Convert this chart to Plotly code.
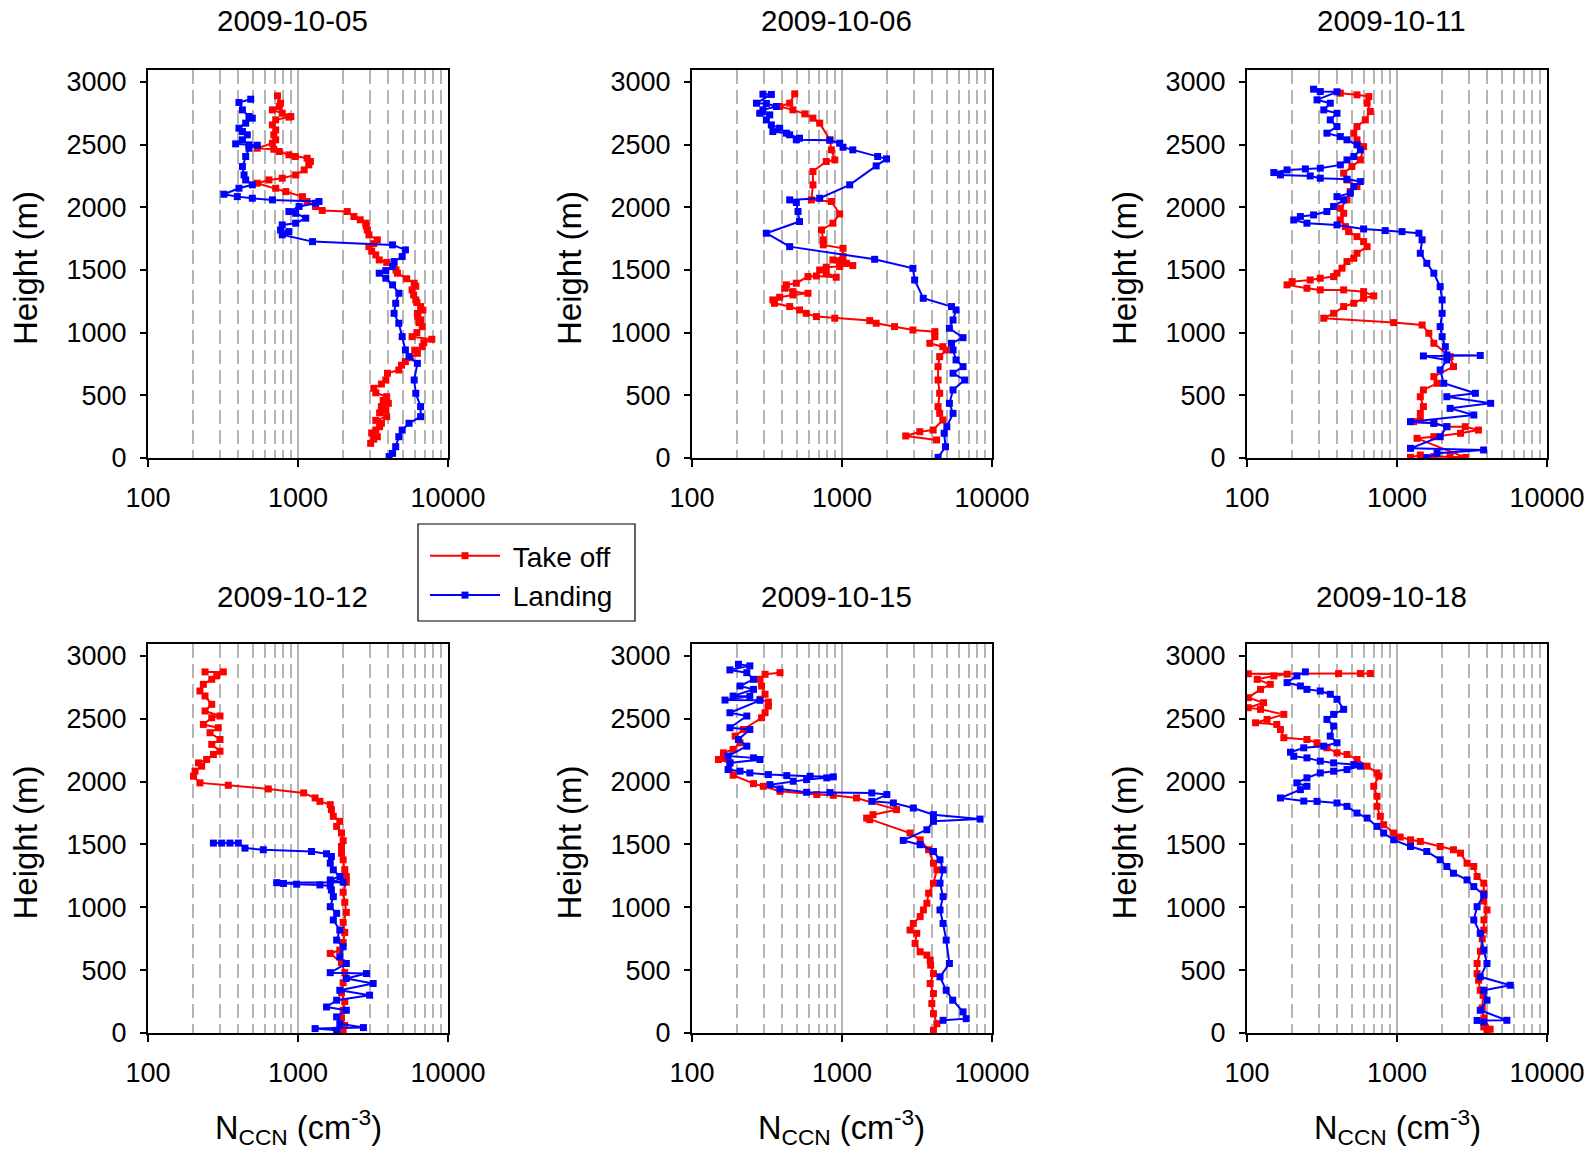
import sys
import plotly.graph_objects as go

# ---------------- data (height in m, N_CCN in cm^-3) ----------------
dates = ["2009-10-05", "2009-10-06", "2009-10-11", "2009-10-12", "2009-10-15", "2009-10-18"]
series_names = ["Take off", "Landing"]

# 2009-10-05
to_1005_h = [117,150,170,200,223,250,277,300,330,360,383,410,436,460,489,520,556,590,622,676,702,740,769,800,835,860,888,920,947,968,1000,1048,1080,1101,1130,1154,1180,1208,1240,1261,1300,1341,1370,1394,1430,1474,1500,1527,1560,1580,1620,1650,1686,1710,1740,1780,1819,1850,1873,1900,1926,1966,1974,2006,2046,2085,2125,2152,2192,2218,2232,2258,2298,2338,2365,2391,2405,2418,2445,2463,2471,2511,2538,2578,2617,2657,2697,2719,2724,2750,2777,2804,2830,2889]
to_1005_n = [3050,3200,3380,3100,3300,3500,3600,3300,3900,3500,3850,3600,4000,3700,3900,3300,3200,3600,3850,3950,4700,4900,5200,5600,6250,6000,6740,6900,7800,5760,6200,6740,6400,6570,6300,6250,6800,6570,6200,6100,5900,5760,6100,5950,5300,4600,4500,4370,3900,3480,3300,3100,2970,3200,3380,2970,2900,2850,2830,2600,2360,2130,1450,1310,1150,1070,830,710,535,640,785,965,1100,1180,1210,1150,960,870,750,690,535,675,710,690,710,675,710,870,895,785,675,750,765,730]
la_1005_h = [2862,2836,2777,2724,2711,2671,2631,2604,2578,2538,2506,2498,2495,2471,2405,2325,2258,2218,2179,2152,2104,2085,2072,2059,2046,2032,2006,1966,1952,1913,1873,1859,1819,1806,1780,1726,1700,1660,1607,1567,1527,1495,1474,1434,1381,1314,1234,1154,1075,968,862,809,755,622,516,410,330,277,223,170,90,37,11]
la_1005_n = [484,404,426,471,496,448,404,426,459,426,384,471,535,471,448,426,437,448,496,404,321,394,496,675,1380,1310,1016,870,965,1126,965,785,765,870,785,1250,4270,5200,4950,4370,4270,3850,3480,3850,4270,4700,4480,4370,4700,4950,5200,5500,6250,5950,6100,6570,6570,5500,4950,4700,4480,4270,4050]

# 2009-10-06
to_1006_h = [144,176,210,223,303,356,410,516,622,729,809,862,888,915,968,1008,1021,1048,1075,1096,1115,1128,1154,1181,1208,1234,1261,1282,1301,1314,1327,1354,1381,1394,1447,1452,1442,1474,1500,1522,1527,1535,1553,1567,1580,1607,1673,1700,1740,1819,1873,1947,2046,2059,2179,2285,2365,2378,2458,2538,2671,2711,2745,2777,2804,2830,2905]
to_1006_n = [4270,2660,3300,4050,4700,4480,4370,4480,4370,4370,4480,4950,4700,3850,4160,4160,2970,2240,1690,1530,895,675,578,521,448,355,346,384,471,593,471,415,426,496,593,675,915,785,710,785,965,1180,1070,965,870,1016,1016,750,750,730,870,965,850,625,640,640,785,895,850,830,710,640,565,471,384,448,484]
la_1006_h = [2902,2900,2830,2828,2804,2777,2750,2737,2697,2657,2631,2604,2591,2578,2551,2538,2535,2511,2479,2458,2405,2386,2330,2179,2072,2059,2038,1966,1886,1793,1686,1585,1513,1420,1274,1208,1181,1101,1035,960,915,862,782,729,676,622,543,436,356,250,197,90,5]
la_1006_n = [297,338,269,313,365,297,283,330,313,338,384,346,426,448,521,496,830,965,1016,1180,1730,1980,1690,1126,710,448,496,509,521,313,448,1650,2970,3050,3480,5370,5760,5500,5200,6410,5370,5500,5760,6410,5500,6570,5500,5200,5500,5000,4800,4900,4370]

# 2009-10-11
to_1011_h = [5,24,11,11,5,157,170,197,223,250,250,277,290,303,356,410,489,543,596,649,729,809,915,995,1061,1080,1115,1154,1208,1234,1274,1293,1327,1341,1341,1354,1381,1407,1420,1434,1447,1474,1514,1567,1593,1633,1686,1726,1766,1806,1846,1899,1952,1992,2059,2125,2165,2218,2272,2325,2378,2484,2538,2591,2644,2697,2764,2830,2883,2897,2910]
to_1011_n = [1230,1430,1760,2260,2850,1360,1760,2650,3490,2850,2150,1760,1290,1430,1430,1500,1430,1500,1850,1760,2380,2260,1760,1630,1470,950,325,378,441,515,599,700,599,441,308,251,185,200,264,308,378,398,430,464,515,541,632,599,541,476,453,419,441,419,464,488,541,464,441,500,570,599,541,515,541,615,664,632,649,541,419]
la_1011_h = [2942,2923,2921,2857,2830,2777,2750,2697,2644,2591,2564,2538,2498,2458,2405,2378,2338,2312,2306,2298,2277,2258,2250,2232,2224,2205,2165,2112,2085,2059,2006,1966,1939,1926,1899,1873,1859,1827,1814,1806,1793,1740,1633,1553,1474,1367,1261,1154,1048,968,888,822,818,814,782,702,596,516,489,436,396,343,290,277,250,170,77,64,37,3]
la_1011_n = [278,308,398,293,359,325,398,359,398,341,419,464,541,570,515,464,419,308,245,185,151,167,264,308,464,570,515,488,398,441,378,341,278,227,205,251,398,599,835,1080,1400,1470,1430,1580,1760,1940,2000,2000,1940,2000,2100,2150,3590,1500,2150,1940,2050,3330,2150,4210,2260,3250,1230,1760,2150,1940,1230,3780,1850,1580]

# 2009-10-12
to_1012_h = [10,60,120,180,250,320,400,480,560,633,660,720,800,880,960,1040,1120,1200,1245,1300,1378,1430,1484,1530,1591,1644,1684,1724,1777,1817,1843,1870,1910,1942,1971,1990,2043,2083,2123,2149,2176,2216,2242,2296,2335,2389,2429,2455,2508,2522,2562,2615,2681,2721,2774,2814,2841,2873,2873]
to_1012_n = [2000,2050,1950,2000,2050,1950,2000,2050,1950,1640,1900,2000,2050,2000,2100,2050,2000,2100,2100,2050,2000,1950,1950,2000,1950,1810,1900,1720,1670,1640,1400,1300,1090,634,343,222,201,206,228,217,246,273,302,266,302,259,294,234,266,302,240,266,240,222,234,266,287,318,240]
la_1012_h = [1511,1511,1511,1511,1471,1458,1444,1426,1404,1351,1298,1245,1218,1200,1196,1190,1184,1178,1170,1138,1085,1005,952,899,819,739,686,606,553,480,473,434,394,340,301,261,207,181,128,74,43,35,21]
la_1012_n = [273,310,352,400,443,587,1230,1550,1670,1640,1720,1900,1640,2000,721,800,980,1400,1640,1670,1720,1640,1810,1720,1900,1810,2000,1900,2100,1640,2860,2100,3170,1900,3000,1810,1550,2100,1810,1900,2730,1300,1810]

# 2009-10-15
to_1015_h = [21,74,154,234,314,394,473,540,580,620,646,713,793,819,872,926,979,1032,1112,1192,1298,1351,1458,1537,1591,1697,1710,1737,1777,1870,1891,1897,1923,1963,1984,2051,2149,2176,2189,2229,2256,2309,2362,2415,2508,2548,2601,2633,2655,2695,2761,2814,2854,2867]
to_1015_n = [4070,4290,4070,3970,4070,3870,4070,3900,3870,3680,3320,3070,3150,2840,2990,3320,3490,3680,3780,4070,4290,4070,3780,3320,2840,1530,1460,1610,2310,1250,875,680,386,299,257,188,179,150,166,162,188,209,194,220,291,307,323,323,284,307,291,284,307,386]
la_1015_h = [2934,2921,2889,2867,2814,2761,2734,2681,2679,2649,2647,2548,2522,2429,2415,2335,2282,2203,2189,2176,2149,2096,2083,2069,2056,2048,2043,2038,2030,2016,2003,1976,1942,1915,1913,1910,1897,1843,1830,1790,1737,1702,1684,1617,1532,1498,1444,1378,1298,1192,1085,979,872,739,553,447,340,261,168,114,101]
la_1015_n = [204,243,179,232,257,209,257,188,243,166,284,179,232,179,243,204,232,174,257,284,179,174,209,243,323,428,613,875,791,581,473,331,386,581,832,1580,1990,1580,2200,2990,4070,8320,4070,3680,2560,3320,4070,4500,4720,4500,4720,4500,4720,4950,5200,4500,4950,5470,6410,6730,4720]

# 2009-10-18
to_1018_h = [21,48,30,120,200,300,340,420,473,553,650,750,819,900,979,1050,1112,1192,1245,1325,1351,1431,1458,1484,1524,1537,1559,1591,1657,1724,1803,1883,1963,2043,2069,2123,2176,2216,2229,2269,2309,2335,2349,2415,2455,2468,2495,2535,2575,2588,2628,2668,2734,2774,2814,2841,2855,2858,2860,2860,2860]
to_1018_n = [3980,3790,4180,3800,3700,3750,3590,3500,3420,3420,3600,3700,3790,3800,3980,3790,3790,3790,3420,3250,2930,2650,2380,1940,1430,1230,1050,950,815,774,736,736,700,755,736,632,541,464,398,341,293,251,176,167,158,114,136,176,123,102,129,102,123,143,117,151,185,102,408,570,664]
la_1018_h = [2873,2841,2788,2761,2734,2721,2695,2655,2575,2535,2495,2442,2362,2309,2282,2269,2234,2202,2189,2163,2149,2136,2123,2096,2083,2069,2030,1990,1963,1936,1870,1845,1843,1830,1803,1750,1710,1644,1591,1537,1484,1444,1378,1325,1271,1218,1165,1099,1005,899,793,660,553,447,380,340,261,181,101,100,88]
la_1018_n = [245,215,185,227,251,308,359,398,441,378,341,378,359,398,325,239,195,205,251,308,378,515,570,464,378,308,251,215,251,227,167,239,293,398,464,541,632,736,815,950,1230,1580,1940,2150,2380,2930,3250,3790,3420,3250,3590,3790,3980,3590,5690,3790,3980,3590,5400,3420,3790]

x_major_ticks = [100, 1000, 10000]
x_major_labels = ["100", "1000", "10000"]
x_minor_ticks = [200, 300, 400, 500, 600, 700, 800, 900, 2000, 3000, 4000, 5000, 6000, 7000, 8000, 9000]
y_ticks = [0, 500, 1000, 1500, 2000, 2500, 3000]

panels = [
    (to_1005_h, to_1005_n, la_1005_h, la_1005_n),
    (to_1006_h, to_1006_n, la_1006_h, la_1006_n),
    (to_1011_h, to_1011_n, la_1011_h, la_1011_n),
    (to_1012_h, to_1012_n, la_1012_h, la_1012_n),
    (to_1015_h, to_1015_n, la_1015_h, la_1015_n),
    (to_1018_h, to_1018_n, la_1018_h, la_1018_n),
]

# ---------------- layout / style ----------------
W, H = 1588, 1161
RED = "#ff0000"
BLUE = "#0000ff"
FONT = "Liberation Sans, Arial, sans-serif"
GRID = "#b4b4b4"

xdom_px = [(148, 448), (692, 992), (1247, 1547)]
ydom_px = [(70, 458), (644, 1033)]


def pair(h, n, label):
    if len(h) != len(n):
        print(f"length mismatch in {label}: {len(h)} vs {len(n)}", file=sys.stderr)
    k = min(len(h), len(n))
    return h[:k], n[:k]


fig = go.Figure()
annotations = []
for i, (th, tn, lh, ln) in enumerate(panels):
    r, c = divmod(i, 3)
    k = i + 1
    xa = "x" if k == 1 else f"x{k}"
    ya = "y" if k == 1 else f"y{k}"
    th, tn = pair(th, tn, dates[i] + " takeoff")
    lh, ln = pair(lh, ln, dates[i] + " landing")
    fig.add_trace(go.Scatter(
        x=tn, y=th, mode="lines+markers", name="&nbsp;" + series_names[0],
        line=dict(color=RED, width=2),
        marker=dict(symbol="square", size=7, color=RED, line=dict(width=0)),
        xaxis=xa, yaxis=ya, legendgroup="to", showlegend=(i == 0)))
    fig.add_trace(go.Scatter(
        x=ln, y=lh, mode="lines+markers", name="&nbsp;" + series_names[1],
        line=dict(color=BLUE, width=2),
        marker=dict(symbol="square", size=7, color=BLUE, line=dict(width=0)),
        xaxis=xa, yaxis=ya, legendgroup="la", showlegend=(i == 0)))

    x0, x1 = xdom_px[c]
    y0, y1 = ydom_px[r]
    xkey = "xaxis" if k == 1 else f"xaxis{k}"
    ykey = "yaxis" if k == 1 else f"yaxis{k}"
    fig.layout[xkey] = dict(
        domain=[x0 / W, x1 / W], anchor=ya, type="log", range=[2, 4], automargin=False,
        tickmode="array", tickvals=x_major_ticks, ticktext=x_major_labels,
        ticks="outside", ticklen=7, tickwidth=2, tickcolor="black",
        tickfont=dict(family=FONT, size=27, color="black"), ticklabelstandoff=8,
        showline=True, linecolor="black", linewidth=2, mirror=True,
        showgrid=True, gridcolor=GRID, gridwidth=1.5, zeroline=False,
        minor=dict(tickmode="array", tickvals=x_minor_ticks, ticks="",
                   showgrid=True, gridcolor=GRID, gridwidth=1.5, griddash="14px,6px"),
    )
    fig.layout[ykey] = dict(
        domain=[1 - y1 / H, 1 - y0 / H], anchor=xa, range=[0, 3095], automargin=False,
        tickmode="array", tickvals=y_ticks,
        ticks="outside", ticklen=6, tickwidth=2, tickcolor="black",
        tickfont=dict(family=FONT, size=27, color="black"), ticklabelstandoff=8,
        showline=True, linecolor="black", linewidth=2, mirror=True,
        showgrid=False, zeroline=False,
    )
    cx = (x0 + x1) / 2
    # panel title
    annotations.append(dict(
        text=dates[i], x=(cx - 6) / W, y=1 - (21 if r == 0 else 596) / H,
        xref="paper", yref="paper", xanchor="center", yanchor="middle",
        showarrow=False, font=dict(family=FONT, size=29.5, color="black")))
    # y-axis title
    annotations.append(dict(
        text="Height (m)", x=(x0 - 123) / W, y=1 - ((y0 + y1) / 2 + 4) / H,
        xref="paper", yref="paper", xanchor="center", yanchor="middle", textangle=-90,
        showarrow=False, font=dict(family=FONT, size=33, color="black")))
    if r == 1:
        annotations.append(dict(
            text="N<sub>CCN</sub> (cm<sup>-3</sup>)", x=cx / W, y=1 - 1127 / H,
            xref="paper", yref="paper", xanchor="center", yanchor="middle",
            showarrow=False, font=dict(family=FONT, size=32.5, color="black")))

# legend frame
shapes = [dict(type="rect", xref="paper", yref="paper",
               x0=418 / W, x1=635 / W, y0=1 - 621 / H, y1=1 - 524 / H,
               line=dict(color="black", width=1.2), fillcolor="rgba(0,0,0,0)", layer="above")]

fig.update_layout(
    width=W, height=H,
    margin=dict(l=0, r=0, t=0, b=0, pad=0, autoexpand=False),
    paper_bgcolor="white", plot_bgcolor="white",
    font=dict(family=FONT, size=27, color="black"),
    annotations=annotations,
    shapes=shapes,
    showlegend=True,
    legend=dict(
        x=425 / W, y=1 - 531 / H, xanchor="left", yanchor="top",
        bgcolor="rgba(0,0,0,0)", borderwidth=0,
        font=dict(family=FONT, size=28, color="black"),
        itemwidth=70, tracegroupgap=0,
    ),
)

fig.write_html("out.html", config={"displayModeBar": False},
               post_script="document.body.style.margin='0px';")
